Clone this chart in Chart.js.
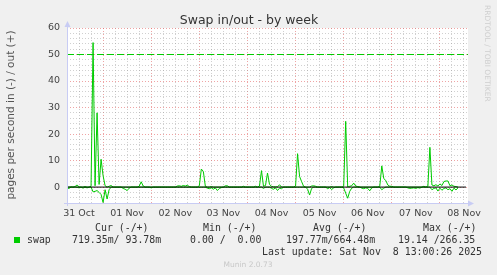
<!DOCTYPE html>
<html>
<head>
<meta charset="utf-8">
<script src="https://cdn.jsdelivr.net/npm/chart.js@4"></script>
<style>
  html, body { margin: 0; padding: 0; background: #f0f0f0; }
  canvas { display: block; }
</style>
</head>
<body>
<canvas id="swap-chart" width="497" height="275"></canvas>
<script>
// one sample per hour, hour 0 = 31 Oct 06:00
var dayLabels = ['31 Oct', '01 Nov', '02 Nov', '03 Nov', '04 Nov', '05 Nov', '06 Nov', '07 Nov', '08 Nov'];
var yTicks = [0, 10, 20, 30, 40, 50, 60];

// pages out (+)
var swapOut = [
  0, 0, 0.1, 0, 0.2, 0.8, 0.1, 0, 0, 0.2, 0, 0,
  0.3, 54.5, 0.5, 28, 1.0, 10.5, 4.3, 0.5, 0, 0.3, 0.6, 0,
  0, 0, 0, 0, 0, 0, 0, 0, 0, 0, 0, 0,
  0.3, 2.0, 0.4, 0, 0, 0, 0, 0, 0, 0, 0, 0,
  0, 0, 0, 0, 0, 0, 0, 0.4, 0.5, 0.3, 0.6, 0.4,
  0.7, 0.2, 0, 0, 0, 0, 0.5, 6.8, 5.9, 0.3, 0, 0,
  0.2, 0, 0, 0, 0, 0, 0, 0.5, 0.5, 0, 0, 0,
  0, 0, 0, 0, 0.3, 0, 0, 0, 0, 0, 0.3, 0,
  0.4, 6.2, 0.3, 0.6, 5.3, 1.0, 0.3, 0.1, 0.1, 0.1, 0.9, 0,
  0, 0, 0, 0, 0, 0, 0.4, 12.6, 4.0, 2.1, 0.3, 0,
  0, 0, 0.4, 0.5, 0.3, 0, 0, 0, 0, 0, 0, 0,
  0.2, 0, 0, 0, 0, 0, 0.3, 24.8, 0, 0.3, 0.5, 1.5,
  0.4, 0.2, 0, 0, 0, 0, 0, 0, 0, 0, 0, 0,
  0.3, 8.0, 3.2, 2.5, 0.8, 0.3, 0.3, 0, 0, 0, 0, 0,
  0, 0, 0, 0, 0, 0, 0, 0, 0, 0, 0.3, 0,
  0.4, 15.0, 0.8, 0.5, 0.9, 0.4, 1.2, 0.6, 2.1, 2.3, 2.3, 0.5,
  0.8, 0.3, 0.2, 0
];

// pages in (-), drawn below zero
var swapIn = [
  0.4, 0.5, 0, 0, 0, 0, 0.3, 0, 0.4, 0, 0.3, 0,
  0, 1.8, 1.6, 1.3, 2.0, 2.8, 5.8, 1.0, 4.5, 1.0, 0, 0,
  0, 0, 0, 0, 0.5, 0.8, 1.3, 0.4, 0, 0, 0, 0,
  0, 0, 0, 0, 0, 0, 0.3, 0, 0, 0, 0, 0,
  0, 0, 0, 0, 0, 0, 0, 0, 0, 0, 0, 0,
  0, 0, 0, 0, 0, 0, 0, 0, 0, 0, 0.4, 0.6,
  0.3, 0.8, 0.3, 1.3, 0.5, 0.2, 0, 0, 0, 0, 0, 0,
  0, 0, 0, 0, 0, 0, 0, 0, 0, 0, 0, 0,
  0, 0, 0.5, 0, 0, 0, 0.5, 0.8, 0.3, 1.3, 0.4, 0.6,
  0, 0, 0, 0, 0, 0, 0, 0, 0, 0, 0, 0,
  0.8, 3.0, 0.5, 0, 0, 0, 0, 0, 0, 0, 0.6, 0.2,
  0.9, 0.3, 0, 0, 0, 0, 0.3, 2.3, 4.2, 1.6, 0.4, 0,
  0, 0, 0, 0.4, 0.6, 0.3, 0.5, 1.4, 0.3, 0, 0, 0,
  0, 1.0, 0.4, 0, 0, 0, 0, 0, 0, 0, 0, 0,
  0, 0, 0.3, 0.5, 0.4, 0.3, 0.5, 0.2, 0.4, 0, 0, 0,
  0, 0, 1.0, 0.5, 0.3, 1.5, 0.4, 1.2, 0.5, 0.3, 1.0, 0.6,
  1.6, 0.4, 1.1, 0.3
];

var hourSpan = 200;
var warnLevel = 50;

var legendHead = ['Cur (-/+)', 'Min (-/+)', 'Avg (-/+)', 'Max (-/+)'];
var legendVals = ['719.35m/ 93.78m', '0.00 /  0.00', '197.77m/664.48m', '19.14 /266.35'];

var GREEN = '#00cc00';
var RED_GRID = 'rgba(225,90,90,0.55)';
var GREY_GRID = 'rgba(150,150,150,0.45)';

var outPts = swapOut.map(function (v, i) { return { x: i, y: v }; });
var inPts = swapIn.map(function (v, i) { return { x: i, y: -v }; });

var muninDeco = {
  id: 'muninDeco',
  beforeDraw: function (chart) {
    var c = chart.ctx, a = chart.chartArea;
    c.save();
    c.fillStyle = '#f0f0f0';
    c.fillRect(0, 0, chart.width, chart.height);
    c.fillStyle = '#ffffff';
    c.fillRect(a.left, a.top, a.right - a.left, a.bottom - a.top);
    c.restore();
  },
  afterDraw: function (chart) {
    var c = chart.ctx, a = chart.chartArea;
    c.save();
    // axes with arrows
    c.strokeStyle = '#c8ccf4';
    c.fillStyle = '#c8ccf4';
    c.lineWidth = 1;
    c.beginPath();
    c.moveTo(a.left + 0.5, a.bottom + 3);
    c.lineTo(a.left + 0.5, a.top - 3);
    c.moveTo(a.left - 3, a.bottom + 0.5);
    c.lineTo(a.right + 2, a.bottom + 0.5);
    c.stroke();
    c.beginPath();
    c.moveTo(a.left - 2.5, a.top - 1);
    c.lineTo(a.left + 3.5, a.top - 1);
    c.lineTo(a.left + 0.5, a.top - 7);
    c.closePath();
    c.fill();
    c.beginPath();
    c.moveTo(a.right, a.bottom - 2.5);
    c.lineTo(a.right, a.bottom + 3.5);
    c.lineTo(a.right + 6, a.bottom + 0.5);
    c.closePath();
    c.fill();

    // title
    c.fillStyle = '#333';
    c.font = '12.5px "DejaVu Sans"';
    c.textAlign = 'center';
    c.textBaseline = 'alphabetic';
    c.fillText('Swap in/out - by week', 249, 24);

    // y axis title
    c.save();
    c.translate(14, 115);
    c.rotate(-Math.PI / 2);
    c.fillStyle = '#555';
    c.font = '10.5px "DejaVu Sans"';
    c.fillText('pages per second in (-) / out (+)', 0, 0);
    c.restore();

    // rrdtool credit
    c.save();
    c.translate(485, 5);
    c.rotate(Math.PI / 2);
    c.fillStyle = '#cfcfcf';
    c.font = '7.5px "DejaVu Sans"';
    c.textAlign = 'left';
    c.fillText('RRDTOOL / TOBI OETIKER', 0, 0);
    c.restore();

    // legend
    c.font = '9.9px "DejaVu Sans Mono"';
    c.fillStyle = '#333';
    c.textAlign = 'left';
    var headX = [95, 203, 313, 423];
    legendHead.forEach(function (t, i) { c.fillText(t, headX[i], 231); });
    c.fillStyle = GREEN;
    c.fillRect(14, 237, 6, 6);
    c.fillStyle = '#333';
    c.fillText('swap', 27, 243);
    var valX = [72, 190, 286, 398];
    legendVals.forEach(function (t, i) { c.fillText(t, valX[i], 243); });
    c.textAlign = 'right';
    c.fillText('Last update: Sat Nov  8 13:00:26 2025', 482, 254.5);

    c.textAlign = 'center';
    c.fillStyle = '#c8c8c8';
    c.font = '7.5px "DejaVu Sans"';
    c.fillText('Munin 2.0.73', 248, 266.5);
    c.restore();
  }
};

var ctx = document.getElementById('swap-chart');
var swapChart = new Chart(ctx, {
  type: 'line',
  data: {
    datasets: [
      {
        label: 'zero',
        data: [{ x: 0, y: 0 }, { x: hourSpan - 1, y: 0 }],
        borderColor: '#000000',
        borderWidth: 1,
        pointRadius: 0
      },
      {
        label: 'swap out',
        data: outPts,
        borderColor: GREEN,
        borderWidth: 1,
        pointRadius: 0,
        tension: 0
      },
      {
        label: 'swap in',
        data: inPts,
        borderColor: GREEN,
        borderWidth: 1,
        pointRadius: 0,
        tension: 0
      },
      {
        label: 'warning',
        data: [{ x: 0, y: warnLevel }, { x: hourSpan, y: warnLevel }],
        borderColor: GREEN,
        borderWidth: 1,
        borderDash: [7, 3],
        pointRadius: 0
      }
    ]
  },
  options: {
    responsive: false,
    animation: false,
    layout: { padding: { top: 28, right: 29, bottom: 0, left: 0 } },
    plugins: { legend: { display: false }, tooltip: { enabled: false } },
    scales: {
      x: {
        type: 'linear',
        min: 0,
        max: hourSpan,
        afterFit: function (s) { s.height = 72; },
        afterBuildTicks: function (s) {
          var t = [];
          for (var h = 0; h < hourSpan; h += 6) t.push({ value: h });
          s.ticks = t;
        },
        grid: {
          drawTicks: false,
          color: function (c) {
            return c.tick && (c.tick.value - 18) % 24 === 0 ? RED_GRID : GREY_GRID;
          }
        },
        border: { display: false, dash: [1, 2] },
        ticks: {
          autoSkip: false,
          maxRotation: 0,
          padding: 5,
          color: '#444',
          font: { family: 'DejaVu Sans', size: 9.5 },
          callback: function (v) {
            return (v - 6) % 24 === 0 ? dayLabels[(v - 6) / 24] : '';
          }
        }
      },
      y: {
        min: -6,
        max: 60,
        afterFit: function (s) { s.width = 67; },
        grid: {
          drawTicks: false,
          color: function (c) {
            return c.tick && c.tick.value % 10 === 0 ? RED_GRID : GREY_GRID;
          }
        },
        border: { display: false, dash: [1, 2] },
        ticks: {
          autoSkip: false,
          stepSize: 2,
          padding: 7,
          color: '#444',
          font: { family: 'DejaVu Sans', size: 9.5 },
          callback: function (v) { return yTicks.indexOf(v) >= 0 ? String(v) : ''; }
        }
      }
    }
  },
  plugins: [muninDeco]
});
</script>
</body>
</html>
